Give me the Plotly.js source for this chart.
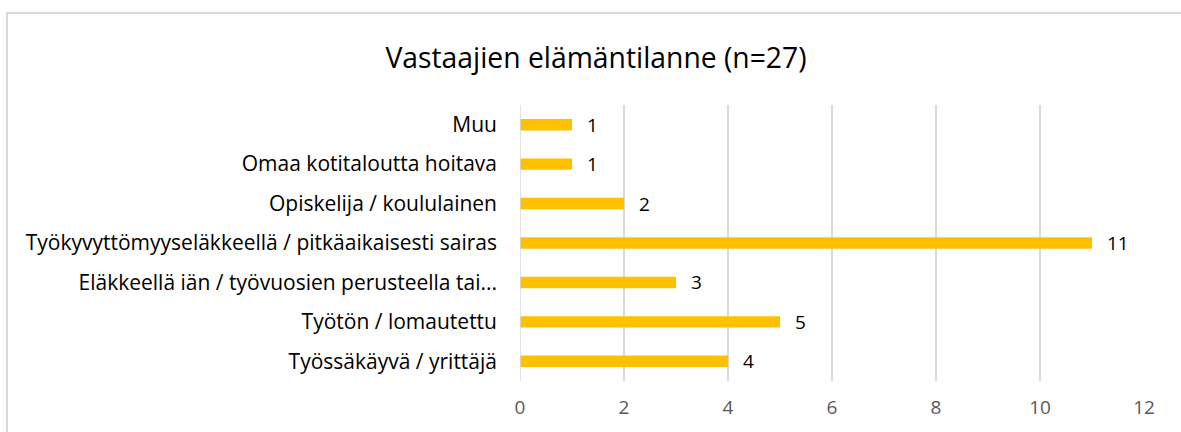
<!DOCTYPE html>
<html>
<head>
<meta charset="utf-8">
<script src="https://cdn.plot.ly/plotly-3.0.1.min.js"></script>
<style>
  html, body { margin: 0; padding: 0; background: #fff; overflow: hidden; }
  #chart { position: absolute; left: 0; top: 0; width: 1181px; height: 432px; }
  #frame { position: absolute; left: 6px; top: 12px; width: 1200px; height: 450px;
           border: 2px solid #d9d9d9; pointer-events: none; box-sizing: border-box; }
</style>
</head>
<body>
<div id="chart"></div>
<div id="frame"></div>
<script>
const categories = [
  'Työssäkäyvä / yrittäjä',
  'Työtön / lomautettu',
  'Eläkkeellä iän / työvuosien perusteella tai...',
  'Työkyvyttömyyseläkkeellä / pitkäaikaisesti sairas',
  'Opiskelija / koululainen',
  'Omaa kotitaloutta hoitava',
  'Muu'
];
const values = [4, 5, 3, 11, 2, 1, 1];
const xTickValues = [0, 2, 4, 6, 8, 10, 12];
const chartTitle = 'Vastaajien elämäntilanne (n=27)';

const FONT = '"Open Sans", "Noto Sans", sans-serif';

const trace = {
  type: 'bar',
  orientation: 'h',
  x: values,
  y: categories,
  marker: { color: '#FFC000' },
  hoverinfo: 'none'
};

const annotations = values.map((v, i) => ({
  x: v, y: categories[i], xref: 'x', yref: 'y',
  text: String(v), showarrow: false,
  xanchor: 'left', yanchor: 'middle', xshift: 13,
  font: { family: FONT, size: 19, color: '#000' }
}));

const layout = {
  width: 1181, height: 432,
  paper_bgcolor: '#fff', plot_bgcolor: '#fff',
  margin: { l: 520, r: 37, t: 105, b: 51 },
  bargap: 0.71,
  showlegend: false,
  title: {
    text: chartTitle,
    xref: 'container', yref: 'container',
    x: 596 / 1181, xanchor: 'center',
    y: 1 - 58 / 432, yanchor: 'middle',
    font: { family: FONT, size: 28.3, color: '#000' }
  },
  xaxis: {
    range: [0, 12],
    tickvals: xTickValues,
    showgrid: true, gridcolor: '#d9d9d9', gridwidth: 1.5,
    zeroline: false, showline: false,
    ticks: '',
    ticklabelstandoff: 13,
    tickfont: { family: FONT, size: 19, color: '#595959' },
    fixedrange: true
  },
  yaxis: {
    type: 'category',
    categoryorder: 'array', categoryarray: categories,
    showgrid: false, zeroline: false, showline: false,
    ticks: '',
    ticklabelstandoff: 22,
    tickfont: { family: FONT, size: 21, color: '#000' },
    fixedrange: true
  },
  shapes: [{
    type: 'line', xref: 'x', yref: 'paper', x0: 0, x1: 0, y0: 0, y1: 1,
    line: { color: '#d9d9d9', width: 1.5 }
  }],
  annotations: annotations
};

Plotly.newPlot('chart', [trace], layout, { displayModeBar: false, staticPlot: true });
</script>
</body>
</html>
